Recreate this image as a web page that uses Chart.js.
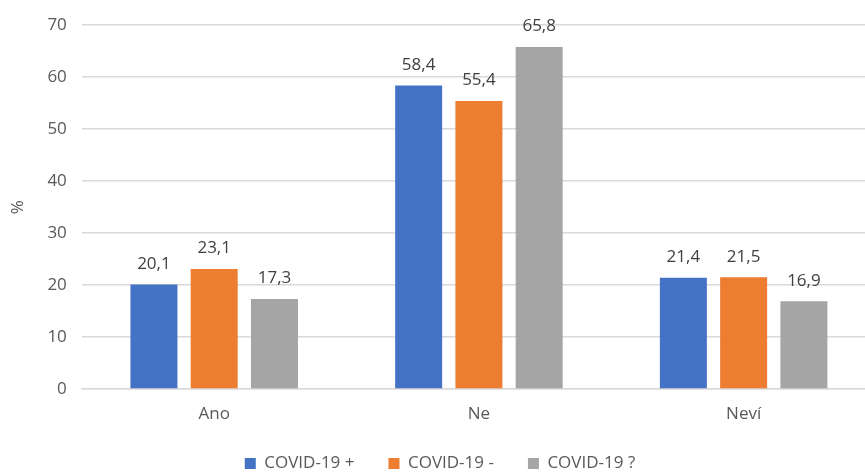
<!DOCTYPE html>
<html>
<head>
<meta charset="utf-8">
<script src="https://cdn.jsdelivr.net/npm/chart.js@4"></script>
<style>
  html, body { margin: 0; padding: 0; background: #fff; overflow: hidden; }
  #clip { width: 865px; height: 474px; overflow: hidden; }
  #wrap { width: 880px; height: 474px; }
</style>
</head>
<body>
<div id="clip"><div id="wrap"><canvas id="chart"></canvas></div></div>
<script>
const categories = ["Ano", "Ne", "Neví"];
const seriesNames = ["COVID-19 +", "COVID-19 -", "COVID-19 ?"];
const covidPositive = [20.1, 58.4, 21.4];
const covidNegative = [23.1, 55.4, 21.5];
const covidUnknown = [17.3, 65.8, 16.9];
const colors = ["#4472c4", "#ed7d31", "#a5a5a5"];

const fontFamily = "'Open Sans', 'Noto Sans', sans-serif";

// draws the value above each bar with a decimal comma
const valueLabels = {
  id: "valueLabels",
  afterDatasetsDraw(chart) {
    const ctx = chart.ctx;
    ctx.save();
    ctx.font = "17px " + fontFamily;
    ctx.fillStyle = "#404040";
    ctx.textAlign = "center";
    ctx.textBaseline = "bottom";
    chart.data.datasets.forEach((ds, i) => {
      chart.getDatasetMeta(i).data.forEach((bar, j) => {
        ctx.fillText(ds.data[j].toFixed(1).replace(".", ","), bar.x, bar.y - 12);
      });
    });
    ctx.restore();
  }
};

new Chart(document.getElementById("chart"), {
  type: "bar",
  data: {
    labels: categories,
    datasets: [covidPositive, covidNegative, covidUnknown].map((d, i) => ({
      label: seriesNames[i],
      data: d,
      backgroundColor: colors[i],
      categoryPercentage: 0.683,
      barPercentage: 0.78,
    })),
  },
  options: {
    responsive: true,
    maintainAspectRatio: false,
    animation: false,
    layout: { autoPadding: false, padding: { top: 23, right: 4, left: 4, bottom: 0 } },
    plugins: {
      legend: {
        position: "bottom",
        maxHeight: 53,
        labels: {
          font: { family: fontFamily, size: 17 },
          color: "#595959",
          boxWidth: 11,
          boxHeight: 11,
          padding: 34,
        },
      },
      tooltip: { enabled: false },
    },
    scales: {
      x: {
        grid: { display: false, drawTicks: false },
        border: { color: "#d9d9d9", width: 1.5 },
        ticks: { font: { family: fontFamily, size: 17 }, color: "#595959", padding: 15 },
        afterFit(scale) { scale.height = 32; },
      },
      y: {
        min: 0,
        max: 70,
        ticks: { stepSize: 10, font: { family: fontFamily, size: 17 }, color: "#595959", padding: 15 },
        grid: { color: "#d9d9d9", lineWidth: 1.5, drawTicks: false },
        border: { display: false },
        title: {
          display: true,
          text: "%",
          font: { family: fontFamily, size: 17 },
          color: "#595959",
        },
      },
    },
  },
  plugins: [valueLabels],
});
</script>
</body>
</html>
